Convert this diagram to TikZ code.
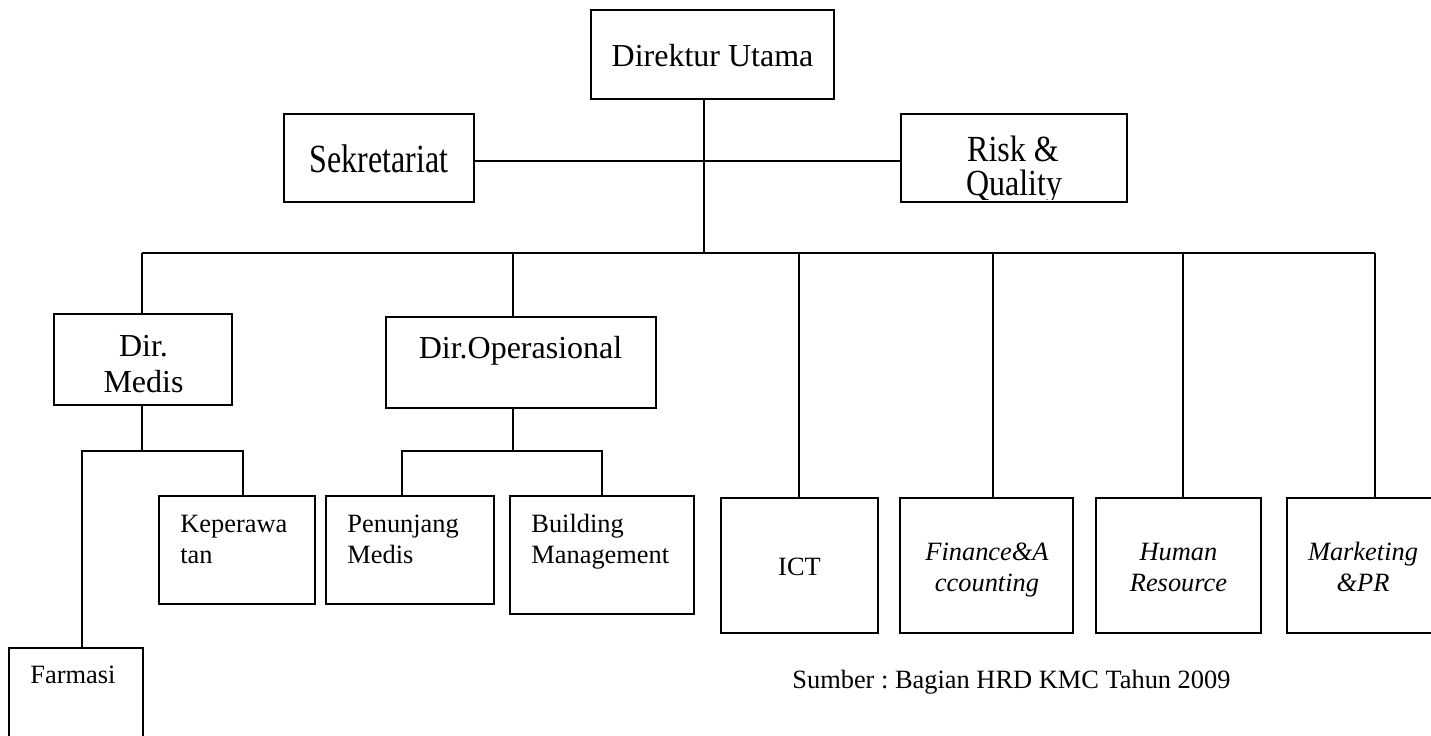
\documentclass[tikz,border=0pt]{standalone}
\usepackage{fontspec}
\usepackage{graphicx}
\setmainfont{Liberation Serif}
\usetikzlibrary{fit}
\frenchspacing
\begin{document}
\begin{tikzpicture}[x=0.5pt,y=-0.5pt,
  orgbox/.style={draw=black,line width=1.1pt,inner sep=0pt,fill=none},
  conn/.style={draw=black,line width=0.85pt},
  bigtxt/.style={inner sep=0pt,font=\fontsize{16}{18.4}\selectfont},
  smalltxt/.style={inner sep=0pt,font=\fontsize{13.2}{15.5}\selectfont},
  itxt/.style={inner sep=0pt,font=\fontsize{13.2}{15.5}\selectfont\itshape}]
\useasboundingbox (0,0) rectangle (1431,735);
\clip (0,0) rectangle (1431,735);
\fill[white] (0,0) rectangle (1431,735);

% boxes
\node[orgbox,fit={(591,10) (834,99)}] (dirut) {};
\node[orgbox,fit={(284,114) (474,202)}] (sek) {};
\node[orgbox,fit={(901,114) (1127,202)}] (risk) {};
\node[orgbox,fit={(54,314) (232,405)}] (dirmedis) {};
\node[orgbox,fit={(386,317) (656,408)}] (dirops) {};
\node[orgbox,fit={(159,496) (315,604)}] (kep) {};
\node[orgbox,fit={(326,496) (494,604)}] (pen) {};
\node[orgbox,fit={(510,496) (694,614)}] (bld) {};
\node[orgbox,fit={(9,648) (143,770)}] (farmasi) {};
\node[orgbox,fit={(721,498) (878,633)}] (ict) {};
\node[orgbox,fit={(900,498) (1073,633)}] (fin) {};
\node[orgbox,fit={(1096,498) (1261,633)}] (hr) {};
\node[orgbox,fit={(1287,498) (1445,633)}] (mkt) {};

% texts
\node[bigtxt,anchor=base] (tdirut) at (712.5,66) {Direktur Utama};
\node[bigtxt,anchor=base] (tsek) at (379,172) {\scalebox{1}[1.25]{Sekretariat}};
\node[bigtxt,anchor=base] (trisk1) at (1013,161) {\scalebox{1}[1.15]{Risk \&}};
\begin{scope}
  \clip (902,115) rectangle (1126,199.5);
  \node[bigtxt,anchor=base] (trisk2) at (1014,195) {\scalebox{1}[1.15]{Quality}};
\end{scope}
\node[bigtxt,anchor=base] (tdm1) at (143.5,356) {Dir.};
\node[bigtxt,anchor=base] (tdm2) at (143.5,392) {Medis};
\node[bigtxt,anchor=base] (tdo) at (520.5,358) {Dir.Operasional};
\node[smalltxt,anchor=base west] (tkep1) at (180,532) {Keperawa};
\node[smalltxt,anchor=base west] (tkep2) at (180,563) {tan};
\node[smalltxt,anchor=base west] (tpen1) at (347,532) {Penunjang};
\node[smalltxt,anchor=base west] (tpen2) at (347,563) {Medis};
\node[smalltxt,anchor=base west] (tbld1) at (531,532) {Building};
\node[smalltxt,anchor=base west] (tbld2) at (531,563) {Management};
\node[smalltxt,anchor=base west] (tfar) at (30,683) {Farmasi};
\node[smalltxt,anchor=base] (tict) at (799.5,575) {ICT};
\node[itxt,anchor=base] (tfin1) at (987,560) {Finance\&A};
\node[itxt,anchor=base] (tfin2) at (987,591) {ccounting};
\node[itxt,anchor=base] (thr1) at (1178.5,560) {Human};
\node[itxt,anchor=base] (thr2) at (1178.5,591) {Resource};
\node[itxt,anchor=base] (tmk1) at (1363,560) {Marketing};
\node[itxt,anchor=base] (tmk2) at (1363,591) {\&PR};
\node[smalltxt,anchor=base west] (tsrc) at (792,688) {Sumber : Bagian HRD KMC Tahun 2009};

% junction coordinates
\coordinate (j0) at (704,253);
\coordinate (h) at (704,161);
\coordinate (bl) at (142,253);
\coordinate (br) at (1375,253);
\coordinate (b2) at (513,253);
\coordinate (b3) at (799,253);
\coordinate (b4) at (993,253);
\coordinate (b5) at (1183,253);
\coordinate (m0) at (142,451);
\coordinate (m1) at (82,451);
\coordinate (m2) at (243,451);
\coordinate (o0) at (513,451);
\coordinate (o1) at (402,451);
\coordinate (o2) at (602,451);

% connectors
\draw[conn] (dirut.south -| j0) -- (j0);
\draw[conn] (h -| sek.east) -- (h -| risk.west);
\draw[conn] (bl) -- (br);
\draw[conn] (bl) -- (bl |- dirmedis.north);
\draw[conn] (b2) -- (b2 |- dirops.north);
\draw[conn] (b3) -- (b3 |- ict.north);
\draw[conn] (b4) -- (b4 |- fin.north);
\draw[conn] (b5) -- (b5 |- hr.north);
\draw[conn] (br) -- (br |- mkt.north);
\draw[conn] (dirmedis.south -| m0) -- (m0);
\draw[conn] (m1 |- farmasi.north) -- (m1) -- (m2) -- (m2 |- kep.north);
\draw[conn] (dirops.south -| o0) -- (o0);
\draw[conn] (o1 |- pen.north) -- (o1) -- (o2) -- (o2 |- bld.north);
\end{tikzpicture}
\end{document}
